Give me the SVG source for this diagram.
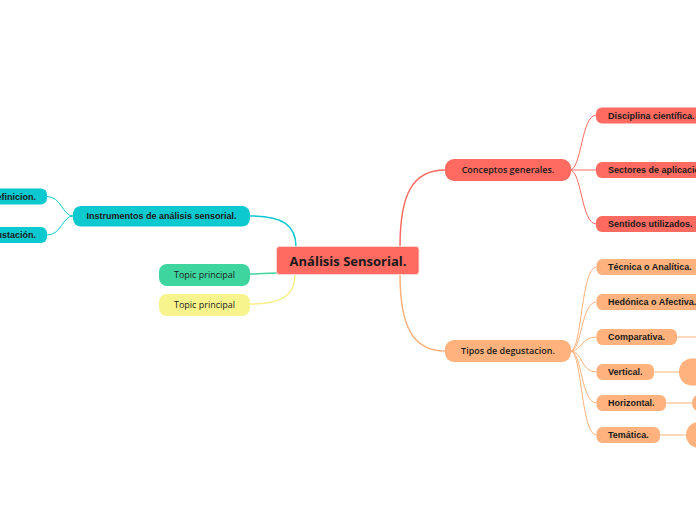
<svg xmlns="http://www.w3.org/2000/svg" width="696" height="520" viewBox="0 0 696 520">
<style>
.c{fill:none;stroke-linecap:round}
.red{stroke:#FF6B61}
.pch{stroke:#FFB27D}
.teal{stroke:#0CC8CF}
.grn{stroke:#3ED59E}
.yel{stroke:#F6F08A}
.fr{fill:#FF6B61}
.fp{fill:#FFB27D}
.ft{fill:#0CC8CF}
.fg{fill:#3ED59E}
.fy{fill:#F7F48D}
.t1{font-family:"Open Sans","Noto Sans",sans-serif;font-weight:700;font-size:13px;fill:#1a1a1a}
.t2{font-family:"Open Sans","Noto Sans",sans-serif;font-weight:600;font-size:9px;fill:#1a1a1a}
.t3{font-family:"Liberation Sans",Arial,sans-serif;font-weight:700;font-size:9px;fill:#1a1a1a}
.t4{font-family:"Open Sans","Noto Sans",sans-serif;font-weight:400;font-size:9px;fill:#1a1a1a}
</style>
<rect width="696" height="520" fill="#ffffff"/>
<g id="connectors">
  <path class="c red" stroke-width="1.5" d="M400,247 C400,195 412,170 445,170"/>
  <path class="c pch" stroke-width="1.5" d="M400,274 C400,325 412,351 445,351"/>
  <path class="c teal" stroke-width="1.5" d="M250,216 C284,216 296,226 296,247"/>
  <path class="c grn" stroke-width="1.5" d="M250,274 C262,274 265,273 277,273"/>
  <path class="c yel" stroke-width="1.5" d="M250,304 C284,304 295,294 295,275"/>
  <path class="c red" stroke-width="1" d="M570,170 C582,170 581,115 596,115"/>
  <path class="c red" stroke-width="1" d="M570,170 L596,170"/>
  <path class="c red" stroke-width="1" d="M570,170 C582,170 581,224 596,224"/>
  <path class="c pch" stroke-width="1" d="M571,351 C582,351 581,267 596,267"/>
  <path class="c pch" stroke-width="1" d="M571,351 C582,351 581,302 596,302"/>
  <path class="c pch" stroke-width="1" d="M571,351 C582,351 581,337 596,337"/>
  <path class="c pch" stroke-width="1" d="M571,351 C582,351 581,372 596,372"/>
  <path class="c pch" stroke-width="1" d="M571,351 C582,351 581,403 596,403"/>
  <path class="c pch" stroke-width="1" d="M571,351 C582,351 581,435 596,435"/>
  <path class="c pch" stroke-width="1" d="M677,337 L710,337"/>
  <path class="c pch" stroke-width="1" d="M654,372 L680,372"/>
  <path class="c pch" stroke-width="1" d="M666,403 L692,403"/>
  <path class="c pch" stroke-width="1" d="M660,435 L686,435"/>
  <path class="c teal" stroke-width="1" d="M73,216 C62,216 62,196.5 47,196.5"/>
  <path class="c teal" stroke-width="1" d="M73,216 C62,216 62,235 47,235"/>
</g>
<g id="central">
  <rect x="276.5" y="246.5" width="142.5" height="28" rx="3" class="fr" stroke="#FFD6D3" stroke-width="1"/>
  <text x="348" y="265.5" text-anchor="middle" class="t1">Análisis Sensorial.</text>
</g>
<g id="conceptos">
  <rect x="445" y="159" width="126" height="22" rx="9" class="fr"/>
  <text x="508" y="173.3" text-anchor="middle" class="t2">Conceptos generales.</text>
</g>
<g id="tipos">
  <rect x="445" y="340" width="126" height="22" rx="9" class="fp"/>
  <text x="508" y="354.3" text-anchor="middle" class="t2">Tipos de degustacion.</text>
</g>
<g id="disciplina">
  <rect x="596" y="107.5" width="115" height="16" rx="6" class="fr"/>
  <text x="608" y="118.7" class="t3">Disciplina científica.</text>
</g>
<g id="sectores">
  <rect x="596" y="162" width="130" height="16" rx="6" class="fr"/>
  <text x="608" y="173.2" class="t3">Sectores de aplicacion.</text>
</g>
<g id="sentidos">
  <rect x="596" y="216" width="110" height="16" rx="6" class="fr"/>
  <text x="608" y="227.2" class="t3">Sentidos utilizados.</text>
</g>
<g id="tecnica">
  <rect x="596.5" y="259" width="110" height="16" rx="6" class="fp"/>
  <text x="608" y="270.2" class="t3">Técnica o Analítica.</text>
</g>
<g id="hedonica">
  <rect x="596.5" y="294" width="115" height="16" rx="6" class="fp"/>
  <text x="608" y="305.2" class="t3">Hedónica o Afectiva.</text>
</g>
<g id="comparativa">
  <rect x="596.5" y="329" width="80.5" height="16" rx="6" class="fp"/>
  <text x="608" y="340.2" class="t3">Comparativa.</text>
</g>
<g id="vertical">
  <rect x="596.5" y="364" width="57.5" height="16" rx="6" class="fp"/>
  <text x="608" y="375.2" class="t3">Vertical.</text>
</g>
<g id="horizontal">
  <rect x="596.5" y="395" width="69.5" height="16" rx="6" class="fp"/>
  <text x="608" y="406.2" class="t3">Horizontal.</text>
</g>
<g id="tematica">
  <rect x="596.5" y="427" width="63.5" height="16" rx="6" class="fp"/>
  <text x="608" y="438.2" class="t3">Temática.</text>
</g>
<g id="vertical-child">
  <rect x="679" y="358.5" width="40" height="27" rx="13" class="fp"/>
</g>
<g id="horizontal-child">
  <rect x="692" y="394.5" width="30" height="17" rx="8" class="fp"/>
</g>
<g id="tematica-child">
  <rect x="686" y="422" width="40" height="26" rx="13" class="fp"/>
</g>
<g id="instrumentos">
  <rect x="73" y="206" width="177" height="20.5" rx="8" class="ft"/>
  <text x="161.5" y="219.4" text-anchor="middle" class="t3">Instrumentos de análisis sensorial.</text>
</g>
<g id="definicion">
  <rect x="-60" y="188.5" width="107" height="16" rx="6" class="ft"/>
  <text x="36" y="199.7" text-anchor="end" class="t3">efinicion.</text>
</g>
<g id="degustacion">
  <rect x="-60" y="227" width="107" height="16" rx="6" class="ft"/>
  <text x="36" y="238.2" text-anchor="end" class="t3">gustación.</text>
</g>
<g id="topic-green">
  <rect x="159" y="264" width="91" height="22" rx="8" class="fg"/>
  <text x="204.5" y="278.3" text-anchor="middle" class="t4">Topic principal</text>
</g>
<g id="topic-yellow">
  <rect x="159" y="294" width="91" height="22" rx="8" class="fy"/>
  <text x="204.5" y="308.3" text-anchor="middle" class="t4">Topic principal</text>
</g>
</svg>
